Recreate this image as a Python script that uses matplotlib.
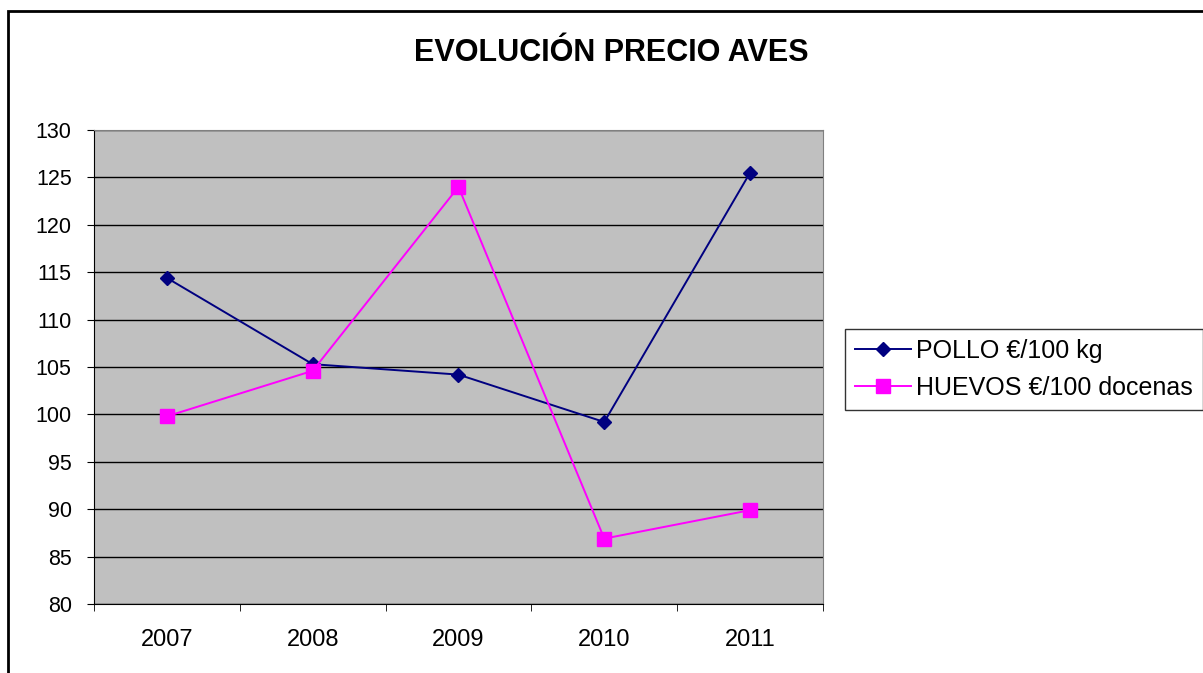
import matplotlib.pyplot as plt
from matplotlib.patches import Rectangle

years = ["2007", "2008", "2009", "2010", "2011"]
pollo = [114.4, 105.3, 104.2, 99.2, 125.5]
huevos = [99.8, 104.6, 124.0, 86.9, 89.9]
y_ticks = [80, 85, 90, 95, 100, 105, 110, 115, 120, 125, 130]

plt.rcParams['font.family'] = ['Liberation Sans', 'DejaVu Sans']

fig = plt.figure(figsize=(12.03, 6.73), dpi=100)
ax = fig.add_axes([0.0781, 0.1025, 0.606, 0.7043])
ax.set_facecolor('#C0C0C0')

x = list(range(len(years)))
ax.plot(x, pollo, color='#000080', marker='D', markersize=7.5, linewidth=1.4,
        label='POLLO €/100 kg')
ax.plot(x, huevos, color='#FF00FF', marker='s', markersize=9.5, linewidth=1.4,
        label='HUEVOS €/100 docenas')

ax.set_xlim(-0.5, len(years) - 0.5)
ax.set_ylim(80, 130)
ax.set_yticks(y_ticks)
ax.set_yticklabels([str(v) for v in y_ticks], fontsize=15.5)
ax.yaxis.grid(True, color='black', linewidth=1)
ax.set_axisbelow(True)

# category labels centred, tick marks on the boundaries
ax.set_xticks(x)
ax.set_xticklabels(years, fontsize=17)
ax.tick_params(axis='x', length=0, pad=18)
ax.set_xticks([i - 0.5 for i in range(len(years) + 1)], minor=True)
ax.tick_params(axis='x', which='minor', length=5, direction='out', color='black')
ax.tick_params(axis='y', length=5, direction='out', pad=11)

for side in ['top', 'right']:
    ax.spines[side].set_color('#808080')
ax.spines['left'].set_color('black')
ax.spines['bottom'].set_color('black')

fig.text(0.508, 0.9215, 'EVOLUCIÓN PRECIO AVES', ha='center', va='center',
         fontsize=22, fontweight='bold')

leg = fig.legend(loc='upper left', bbox_to_anchor=(0.7024, 0.5111),
                 fontsize=18, frameon=True, fancybox=False, handlelength=2.25,
                 borderaxespad=0, borderpad=0.4, labelspacing=0.5,
                 handletextpad=0.2)
leg.get_frame().set_edgecolor('black')
leg.get_frame().set_linewidth(1)

fig.patches.append(Rectangle((8 / 1203, -0.1), 1.2, 0.1 + 1 - 11 / 673,
                             transform=fig.transFigure, fill=False,
                             edgecolor='black', linewidth=2))

fig.savefig('out.png', dpi=100)
plt.close(fig)
